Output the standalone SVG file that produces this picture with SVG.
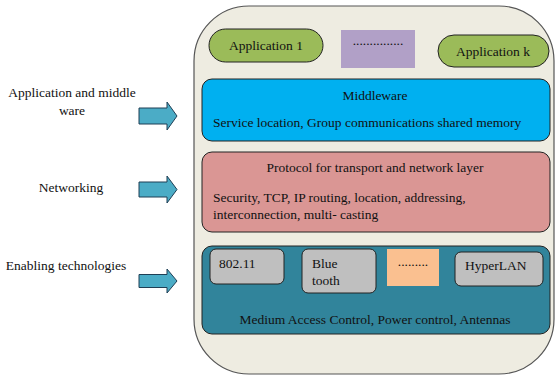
<svg xmlns="http://www.w3.org/2000/svg" width="555" height="377" viewBox="0 0 555 377">
<style>
text{font-family:"Liberation Serif","Times New Roman",serif;font-size:13.5px;fill:#111}
.box{stroke:#222;stroke-width:1}
.arrow{fill:#4BACC6;stroke:#1F3F55;stroke-width:1}
</style>
<rect width="555" height="377" fill="#ffffff"/>
<g id="container">
<rect x="194" y="6" width="360" height="368" rx="55" ry="55" fill="#EEECE1" stroke="#555" stroke-width="1.2"/>
</g>
<g id="app1"><rect class="box" x="209" y="29" width="114" height="33" rx="16.5" fill="#9BBB59"/><text x="266" y="50" text-anchor="middle">Application 1</text></g>
<g id="appdots"><rect x="341" y="30" width="74" height="38" fill="#B1A0C7"/><text x="378" y="45" text-anchor="middle">...............</text></g>
<g id="appk"><rect class="box" x="438" y="35" width="111" height="32" rx="16" fill="#9BBB59"/><text x="493" y="56" text-anchor="middle">Application k</text></g>
<g id="middleware"><rect class="box" x="202" y="79" width="348" height="62" rx="10" fill="#00B0F0"/><text x="375" y="100" text-anchor="middle">Middleware</text><text x="213" y="127">Service location, Group communications shared memory</text></g>
<g id="protocol"><rect class="box" x="202" y="152" width="348" height="80" rx="10" fill="#DA9694"/><text x="375" y="172" text-anchor="middle">Protocol for transport and network layer</text><text x="213" y="202">Security, TCP, IP routing, location, addressing,</text><text x="213" y="219">interconnection, multi- casting</text></g>
<g id="mac"><rect class="box" x="202" y="246" width="348" height="88" rx="10" fill="#31849B"/><text x="375" y="324" text-anchor="middle">Medium Access Control, Power control, Antennas</text></g>
<g id="n80211"><rect class="box" x="210" y="249" width="74" height="35" rx="6" fill="#BFBFBF"/><text x="219" y="268">802.11</text></g>
<g id="bluetooth"><rect class="box" x="302" y="249" width="74" height="44" rx="6" fill="#BFBFBF"/><text x="312" y="268">Blue</text><text x="312" y="285">tooth</text></g>
<g id="techdots"><rect x="387" y="249" width="52" height="37" fill="#FAC090"/><text x="413" y="266" text-anchor="middle">.........</text></g>
<g id="hyperlan"><rect class="box" x="455" y="252" width="88" height="34" rx="6" fill="#BFBFBF"/><text x="465" y="270">HyperLAN</text></g>
<g id="labels">
<text x="72" y="97" text-anchor="middle">Application and middle</text>
<text x="72" y="115" text-anchor="middle">ware</text>
<text x="71" y="192" text-anchor="middle">Networking</text>
<text x="66" y="270" text-anchor="middle">Enabling technologies</text>
</g>
<g id="connectors">
<path class="arrow" d="M139,108 H167 V102 L177,116 L167,130 V124 H139 Z"/>
<path class="arrow" d="M139,182 H167 V176 L177,189.5 L167,203 V197 H139 Z"/>
<path class="arrow" d="M139,274.5 H167 V269 L177,281 L167,293 V287.5 H139 Z"/>
</g>
</svg>
